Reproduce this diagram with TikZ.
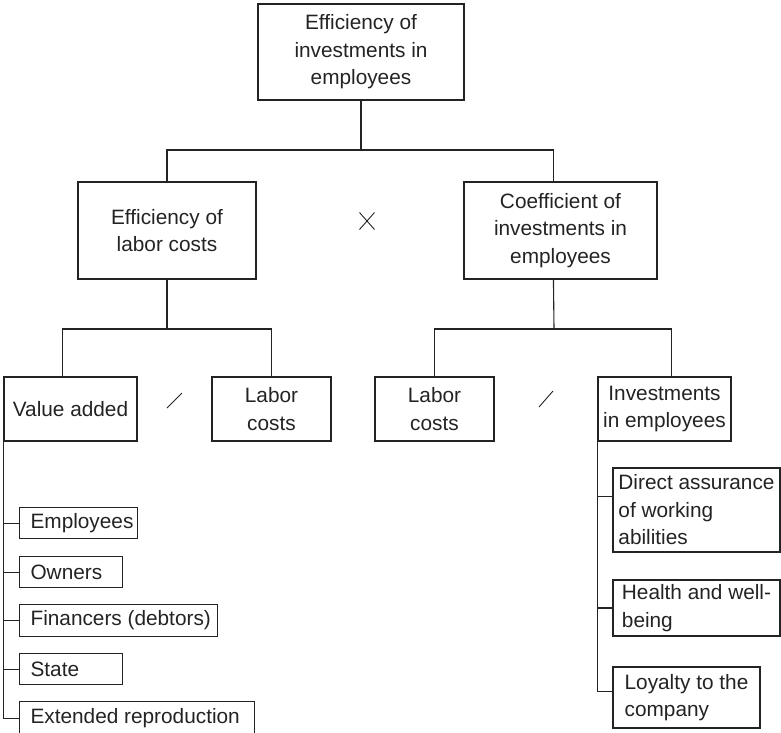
\documentclass[tikz,border=0pt]{standalone}
\usepackage{fontspec}
\setmainfont{Liberation Sans}
\usetikzlibrary{calc}
\definecolor{ink}{RGB}{35,35,35}
% single-line entry, left aligned inside a box of the given width
\newcommand\leafentry[2]{\makebox[#1][l]{\hspace{11pt}#2}}
\begin{document}
\begin{tikzpicture}[x=1pt,y=-1pt,
  font=\fontsize{20.8pt}{27.5pt}\selectfont,
  box/.style={draw=ink, line width=1.1pt, text=ink, align=center, inner sep=0pt},
  sidebox/.style={draw=ink, line width=1.1pt, text=ink, align=left, inner sep=0pt},
  leaf/.style={draw=ink, line width=1.1pt, text=ink, inner sep=0pt, anchor=north west},
  link/.style={draw=ink, line width=1.1pt},
  op/.style={draw=ink, line width=0.9pt}]
\useasboundingbox (0,0) rectangle (781,732);

% top level
\node[box, minimum width=206pt, minimum height=96pt] (top) at (361,52)
  {Efficiency of\\investments in\\employees};

% second level
\node[box, minimum width=178pt, minimum height=97pt] (elc) at (167,230.5)
  {Efficiency of\\labor costs};
\node[box, minimum width=193pt, minimum height=97pt] (coef) at (560.5,230.5)
  {Coefficient of\\investments in\\employees};

% third level
\node[box, minimum width=133pt, minimum height=64pt] (va) at (70.5,409) {Value added};
\node[box, minimum width=119pt, minimum height=64pt] (lc1) at (271.5,409) {Labor\\costs};
\node[box, minimum width=119pt, minimum height=64pt] (lc2) at (434.5,409) {Labor\\costs};
\node[box, minimum width=133pt, minimum height=64pt] (inv) at (664.5,409) {Investments\\in employees};

% distribution of value added
\node[leaf, minimum height=31pt] (emp) at (19,507) {\leafentry{118pt}{Employees}};
\node[leaf, minimum height=31pt] (own) at (19,556) {\leafentry{103pt}{Owners}};
\node[leaf, minimum height=32pt] (fin) at (19,604) {\leafentry{198pt}{Financers (debtors)}};
\node[leaf, minimum height=31pt] (sta) at (19,653) {\leafentry{103pt}{State}};
\node[leaf, minimum height=33pt] (ext) at (19,701) {\leafentry{235pt}{Extended reproduction}};

% kinds of investments in employees
\node[sidebox, minimum width=167pt, minimum height=84pt] (da) at (696.5,510)
  {Direct assurance\\of working\\abilities};
\node[sidebox, minimum width=167pt, minimum height=56pt] (hw) at (696.5,608)
  {Health and well-\\being};
\node[sidebox, minimum width=147pt, minimum height=61pt] (loy) at (686.5,697.5)
  {Loyalty to the\\company};

% junctions of the tree
\coordinate (jt) at (361,150);
\coordinate (jl) at (167,329);
\coordinate (jr) at (554,329);

\draw[link] (top.south) -- (jt);
\draw[link] (elc.north) |- (jt) -| ($(coef.north west)+(90,0)$);

\draw[link] (elc.south) -- (jl);
\draw[link] ($(va.north west)+(59,0)$) |- (jl) -| (lc1.north);

\draw[link] ($(coef.south west)+(90,0)$) -- (jr);
\draw[link] (lc2.north) |- (jr) -| ($(inv.north west)+(74,0)$);

% value added breakdown
\draw[link] (va.south west) |- (ext.west);
\foreach \n in {emp,own,fin,sta}
  \draw[link] (\n.west) -- (va.south west |- \n.west);

% investments breakdown
\draw[link] (inv.south west) |- ($(loy.north west)+(0,25)$);
\draw[link] ($(da.north west)+(0,29)$) -- (inv.south west |- {$(da.north west)+(0,29)$});
\draw[link] (hw.west) -- (inv.south west |- hw.west);

% operators between the boxes
\coordinate (mul) at (367,221);
\draw[op] ($(mul)+(-7.5,-8.5)$) -- ($(mul)+(7.5,8.5)$);
\draw[op] ($(mul)+(-7.5,8.5)$) -- ($(mul)+(7.5,-8.5)$);
\coordinate (div1) at (174.5,400.5);
\draw[op] ($(div1)+(-7.5,7.5)$) -- ($(div1)+(7.5,-7.5)$);
\coordinate (div2) at (546,399);
\draw[op] ($(div2)+(-7,8)$) -- ($(div2)+(7,-8)$);
\end{tikzpicture}
\end{document}
